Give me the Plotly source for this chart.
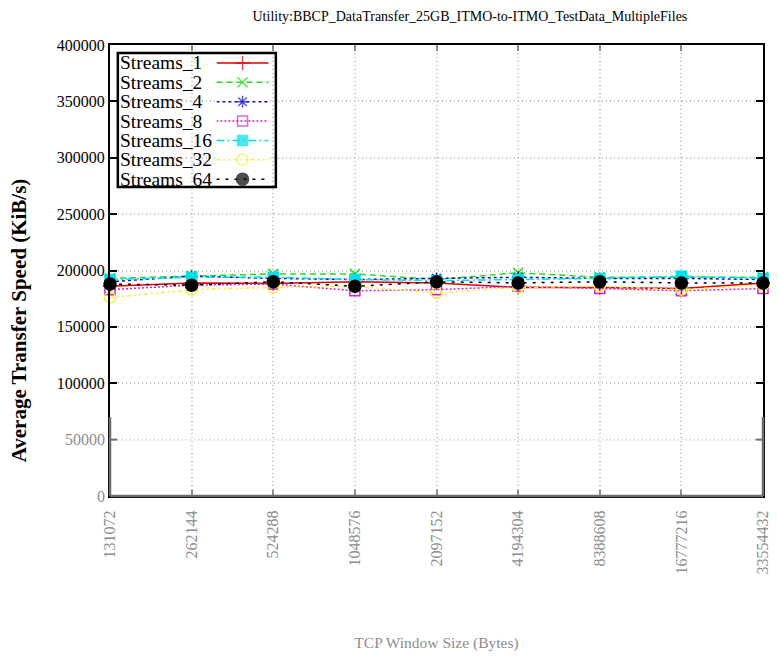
import plotly.graph_objects as go

window_sizes = ["131072", "262144", "524288", "1048576", "2097152",
                "4194304", "8388608", "16777216", "33554432"]
series_names = ["Streams_1", "Streams_2", "Streams_4", "Streams_8",
                "Streams_16", "Streams_32", "Streams_64"]
streams_1 = [186000, 189000, 188500, 190000, 189000, 185000, 185000, 184000, 189000]
streams_2 = [193000, 195000, 197000, 197000, 192000, 198000, 194000, 194000, 194000]
streams_4 = [190000, 195000, 193000, 192000, 193000, 194000, 193000, 193000, 192000]
streams_8 = [183000, 187000, 188000, 182000, 183000, 186000, 184000, 182000, 184000]
streams_16 = [192000, 194000, 194000, 192000, 191000, 192000, 193000, 195000, 193000]
streams_32 = [176000, 183000, 185000, 186000, 180000, 185000, 186000, 183000, 187000]
streams_64 = [188000, 187000, 190000, 186000, 190000, 189000, 190000, 189000, 189000]
y_ticks_dark = [100000, 150000, 200000, 250000, 300000, 350000, 400000]
y_ticks_light = [0, 50000]

all_series = [streams_1, streams_2, streams_4, streams_8, streams_16, streams_32, streams_64]
colors = ["#dd0000", "#22dd22", "#1010c0", "#cc22cc", "#00e0e8", "#f0f040", "#000000"]
dashes = ["solid", "6px,4px", "3px,3px", "2px,2px", "8px,3px,2px,3px", "4px,3px,2px,3px,2px,3px", "3px,6px"]
symbols = ["cross-thin-open", "x-thin-open", "asterisk-open", "square-open", "square", "circle-open", "circle"]
sizes = [10, 10, 10, 10, 10, 11, 12]

GRAY = "rgb(140,140,140)"
GRID = "#c4c4c4"
SERIF = "Liberation Serif, Times New Roman, serif"

fig = go.Figure()
for name, vals, c, d, s, sz in zip(series_names, all_series, colors, dashes, symbols, sizes):
    fig.add_trace(go.Scatter(
        x=window_sizes, y=vals, name=name, mode="lines+markers",
        line=dict(color=c, width=1.5, dash=d),
        marker=dict(symbol=s, size=sz, color=c, line=dict(color=c, width=1.5)),
        cliponaxis=False, showlegend=False))

# custom gnuplot-style legend (label left, sample right)
for i, (name, c, d, s, sz) in enumerate(zip(series_names, colors, dashes, symbols, sizes)):
    row = i + 1
    fig.add_trace(go.Scatter(
        x=[0, 0.5, 1], y=[row, row, row], mode="lines+markers",
        line=dict(color=c, width=1.5, dash=d),
        marker=dict(symbol=s, size=[0, sz, 0], color=c, line=dict(color=c, width=1.5)),
        xaxis="x2", yaxis="y2", showlegend=False, hoverinfo="skip", cliponaxis=False))
    fig.add_annotation(text=name, xref="paper", yref="y2", x=0.012, y=row,
                       xanchor="left", yanchor="middle", showarrow=False,
                       font=dict(family=SERIF, size=19.5, color="black"))

shapes = []
# light (gray) lower ticks: labels, gridline and tick marks
for v in y_ticks_light:
    fig.add_annotation(text=str(v), xref="paper", yref="y", x=0, y=v,
                       xanchor="right", yanchor="middle", xshift=-3,
                       showarrow=False,
                       font=dict(family=SERIF, size=16, color=GRAY))
    if v > 0:
        shapes.append(dict(type="line", xref="paper", yref="y", x0=0, x1=1, y0=v, y1=v,
                           line=dict(color=GRID, width=1.5, dash="1px,3px"), layer="below"))
        shapes.append(dict(type="line", xref="paper", yref="y", x0=0, x1=0.011, y0=v, y1=v,
                           line=dict(color="#6e6e6e", width=2), layer="above"))
        shapes.append(dict(type="line", xref="paper", yref="y", x0=0.989, x1=1, y0=v, y1=v,
                           line=dict(color="#6e6e6e", width=2), layer="above"))

fig.add_annotation(text="<b>Average Transfer Speed (KiB/s)</b>", textangle=-90,
                   xref="paper", yref="paper", x=-0.139, y=0.39,
                   xanchor="center", yanchor="middle", showarrow=False,
                   font=dict(family=SERIF, size=21, color="black"))

shapes += [
    dict(type="rect", xref="paper", yref="paper", x0=0.012, x1=0.254, y0=0.685, y1=0.982,
         line=dict(width=0), fillcolor="white", layer="between"),
    dict(type="rect", xref="paper", yref="paper", x0=0.012, x1=0.254, y0=0.685, y1=0.982,
         line=dict(color="black", width=2.5), fillcolor="rgba(0,0,0,0)", layer="above"),
    dict(type="line", xref="paper", yref="y", x0=0, x1=0, y0=0, y1=70000,
         line=dict(color="#6e6e6e", width=2.5), layer="above"),
    dict(type="line", xref="paper", yref="y", x0=1, x1=1, y0=0, y1=70000,
         line=dict(color="#6e6e6e", width=2.5), layer="above"),
    dict(type="line", xref="paper", yref="paper", x0=0, x1=1, y0=0, y1=0,
         line=dict(color="#6e6e6e", width=2.5), layer="above"),
]

fig.update_layout(
    width=778, height=656,
    margin=dict(l=110, r=7, t=45, b=157),
    paper_bgcolor="white", plot_bgcolor="white",
    title=dict(text="Utility:BBCP_DataTransfer_25GB_ITMO-to-ITMO_TestData_MultipleFiles",
               x=0.604, xanchor="center", y=0.975, yanchor="middle",
               font=dict(family=SERIF, size=14, color="black")),
    xaxis=dict(type="category", range=[0, 8], showgrid=True,
               gridcolor=GRID, griddash="1px,3px", gridwidth=1.5,
               ticks="inside", ticklen=6, tickcolor=GRAY, tickwidth=2,
               tickangle=-90, tickfont=dict(family=SERIF, size=16, color=GRAY),
               ticklabelstandoff=6,
               showline=True, linecolor="black", linewidth=2, mirror="ticks",
               zeroline=False,
               title=dict(text="TCP Window Size (Bytes)", standoff=64,
                          font=dict(family=SERIF, size=15.5, color=GRAY))),
    yaxis=dict(range=[0, 400000], tickvals=y_ticks_dark,
               ticktext=[str(v) for v in y_ticks_dark],
               showgrid=True, gridcolor=GRID, griddash="1px,3px", gridwidth=1.5,
               ticks="inside", ticklen=7, tickcolor="black", tickwidth=2,
               tickfont=dict(family=SERIF, size=16, color="black"),
               showline=True, linecolor="black", linewidth=2, mirror="ticks",
               zeroline=False),
    xaxis2=dict(domain=[0.163, 0.243], range=[0, 1], visible=False, anchor="y2"),
    yaxis2=dict(domain=[0.685, 0.982], range=[7.41, 0.49], visible=False, anchor="x2"),
    shapes=shapes,
)

fig.write_html("out.html")
